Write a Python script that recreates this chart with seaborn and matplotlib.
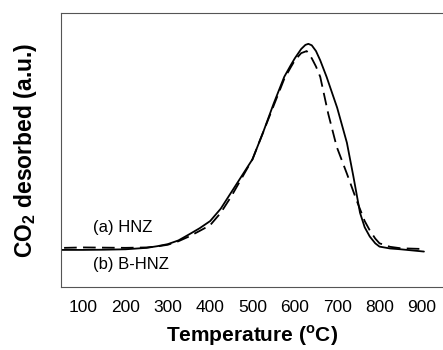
import matplotlib
matplotlib.use("Agg")
import matplotlib.pyplot as plt
import seaborn as sns
import pandas as pd

# Data
temp_hnz = [50, 100, 150, 200, 250, 275, 300, 325, 350, 375, 400, 425, 450, 475, 500, 525,
            550, 575, 590, 600, 615, 625, 632, 640, 650, 660, 675, 700, 723, 738, 754,
            765, 777, 790, 800, 825, 850, 905]
co2_hnz = [0, 0, 0.1, 0.3, 1.0, 1.8, 2.8, 4.6, 7.5, 10.5, 14, 20, 28, 36, 44, 57,
           71, 84, 89.5, 93, 97.5, 99.5, 100, 99.3, 96.5, 92, 84, 69, 52, 36, 18,
           11, 6.5, 3.2, 1.6, 0.7, 0.3, -0.8]

temp_bhnz = [55, 100, 150, 200, 250, 275, 300, 325, 350, 375, 400, 425, 450, 475, 500, 525,
             550, 575, 590, 600, 615, 628, 640, 650, 660, 679, 699, 723, 746, 765, 777,
             790, 800, 825, 850, 895]
co2_bhnz = [1.0, 1.2, 1.1, 1.0, 1.2, 1.7, 2.5, 4.2, 6.5, 9.2, 12, 18, 26, 35, 44, 57,
            70, 83, 88.5, 92, 95.5, 96.5, 93, 89, 84, 66, 50, 37, 24, 14, 9.5,
            5.5, 3.2, 1.5, 0.8, 0.5]

labels = ["(a) HNZ", "(b) B-HNZ"]
xticks = [100, 200, 300, 400, 500, 600, 700, 800, 900]

df = pd.concat([
    pd.DataFrame({"T": temp_hnz, "v": co2_hnz, "s": labels[0]}),
    pd.DataFrame({"T": temp_bhnz, "v": co2_bhnz, "s": labels[1]}),
])

sns.set_style("white")
plt.rcParams["font.family"] = ["Liberation Sans", "DejaVu Sans"]
plt.rcParams["text.color"] = "black"
plt.rcParams["axes.labelcolor"] = "black"
plt.rcParams["xtick.labelcolor"] = "black"

fig = plt.figure(figsize=(4.43, 3.5), dpi=100)
ax = fig.add_axes([0.138, 0.18, 0.862, 0.783])

sns.lineplot(data=df, x="T", y="v", hue="s", style="s", sort=False,
             palette=["black", "black"], dashes=[(None, None), (7, 3.5)],
             linewidth=1.3, legend=False, ax=ax, estimator=None)

ax.set_xlim(48, 950)
ax.set_ylim(-18, 115)
ax.set_xticks(xticks)
ax.set_xticklabels([str(t) for t in xticks], fontsize=12.5, color="black")
ax.set_yticks([])
ax.tick_params(axis="x", direction="out", length=3, width=0.8, color="#555555", pad=6)

for s in ["left", "top", "bottom"]:
    ax.spines[s].set_color("#555555")
    ax.spines[s].set_linewidth(0.8)
ax.spines["right"].set_visible(False)

ax.set_xlabel("Temperature ($^\\mathregular{o}$C)", fontsize=15, fontweight="bold", labelpad=6.5, color="black")
ax.set_ylabel("CO$_\\mathregular{2}$ desorbed (a.u.)", fontsize=16.5, fontweight="bold", labelpad=16, color="black")

ax.text(124, 10.7, labels[0], fontsize=12, va="center", ha="left", color="black")
ax.text(124, -7.3, labels[1], fontsize=12, va="center", ha="left", color="black")

fig.savefig("out.png", dpi=100)
